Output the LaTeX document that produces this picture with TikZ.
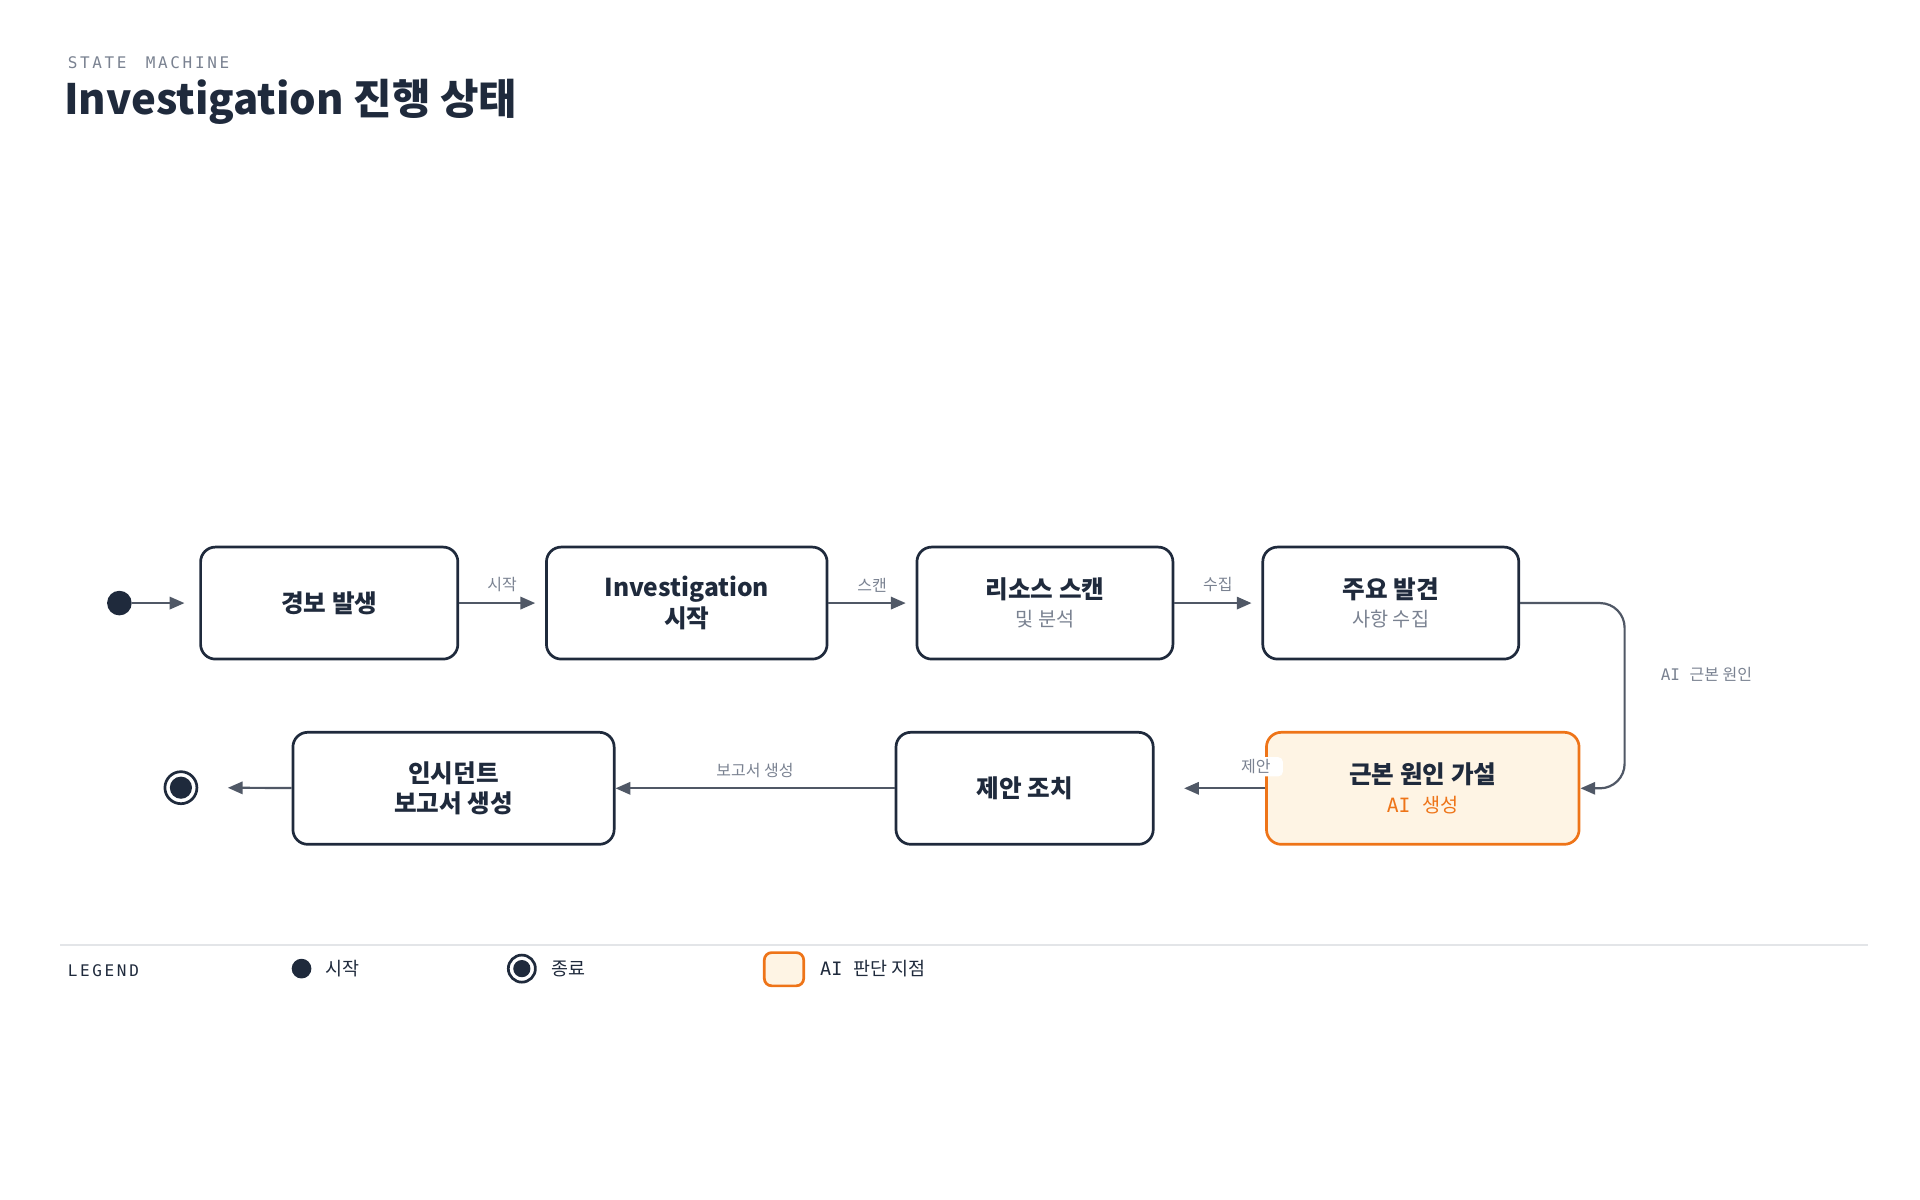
\documentclass[tikz,border=0pt]{standalone}
\usepackage{fontspec}
\setmainfont{Noto Sans CJK KR}
\setmonofont{DejaVu Sans Mono}
\newfontfamily\krfont{Noto Sans CJK KR}
\usetikzlibrary{arrows.meta, positioning}
\definecolor{ink}{HTML}{1F2A3C}
\definecolor{wire}{HTML}{505866}
\definecolor{muted}{HTML}{7A8291}
\definecolor{aiorange}{HTML}{EE7418}
\definecolor{aifill}{HTML}{FEF4E4}
\definecolor{rule}{HTML}{E3E5E8}
\newcommand\subline{\fontsize{8}{10}\selectfont\mdseries\color{muted}}
\tikzset{
  state/.style={draw=ink, line width=1.1pt, rounded corners=6pt, minimum height=45.5pt, align=center, text=ink, font=\fontsize{10}{12.5}\selectfont\bfseries},
  aistate/.style={state, draw=aiorange, fill=aifill},
  flow/.style={draw=wire, line width=0.9pt, -{Triangle[length=6pt,width=5pt]}},
  lbl/.style={text=muted, font=\fontsize{6.5}{8}\selectfont, inner sep=1pt},
}
\begin{document}
\begin{tikzpicture}[x=0.5pt, y=-0.5pt]
\useasboundingbox (0,0) rectangle (1560,975);
% title
\node[anchor=west, text=muted, font=\ttfamily\fontsize{6.5}{8}\selectfont] at (48,51) {S\,T\,A\,T\,E\ \ M\,A\,C\,H\,I\,N\,E};
\node[anchor=west, text=ink, font=\fontsize{17}{20}\selectfont\bfseries] at (45,83) {Investigation 진행 상태};
% states
\node[circle, fill=ink, minimum size=10pt, inner sep=0pt] (start) at (97,490) {};
\node[state, minimum width=104.5pt] (alert) at (267.5,490) {경보 발생};
\node[state, minimum width=114pt] (invest) at (558,490) {Investigation\\시작};
\node[state, minimum width=104pt] (scan) at (849,490) {리소스 스캔\\[-1pt]{\subline 및 분석}};
\node[state, minimum width=104pt] (finding) at (1130,490) {주요 발견\\[-1pt]{\subline 사항 수집}};
\node[aistate, minimum width=127pt] (rootcause) at (1156,640.5) {근본 원인 가설\\[-1pt]{\subline\color{aiorange}\ttfamily AI {\krfont 생성}}};
\node[state, minimum width=104.5pt] (action) at (832.5,640.5) {제안 조치};
\node[state, minimum width=130.5pt] (report) at (368.5,640.5) {인시던트\\보고서 생성};
\node[circle, draw=ink, line width=1.1pt, minimum size=13pt, inner sep=0pt] (stop) at (147,640) {};
\node[circle, fill=ink, minimum size=9pt, inner sep=0pt] at (stop) {};
% transitions
\draw[flow, shorten >=6pt] (start) -- (alert);
\draw[flow, shorten >=4pt] (alert) -- node[lbl, above=3pt] {시작} (invest);
\draw[flow, shorten >=4pt] (invest) -- node[lbl, above=3pt] {스캔} (scan);
\draw[flow, shorten >=4pt] (scan) -- node[lbl, above=3pt] {수집} (finding);
\coordinate (bend) at (1320,490);
\draw[flow, rounded corners=10pt] (finding.east) -- (bend) -- (bend |- rootcause) -- (rootcause.east);
\node[lbl, font=\ttfamily\fontsize{6.5}{8}\selectfont, anchor=west] at (1347,548) {AI {\krfont 근본 원인}};
\draw[flow, shorten >=12pt] (rootcause) -- (action);
\node[lbl, fill=white, rounded corners=2pt, minimum width=22pt, anchor=west, inner xsep=5pt] at (998,623) {제안};
\draw[flow] (action) -- node[lbl, above=3pt] {보고서 생성} (report);
\draw[flow, shorten >=12pt] (report) -- (stop);
% legend
\draw[rule, line width=0.8pt] (49,768) -- (1518,768);
\node[anchor=west, text=ink, font=\ttfamily\fontsize{6.5}{8}\selectfont] at (48,789) {L\,E\,G\,E\,N\,D};
\node[circle, fill=ink, minimum size=8pt, inner sep=0pt] (legstart) at (245,787) {};
\node[lbl, anchor=west, text=ink, font=\fontsize{7.5}{9}\selectfont] at (262,787) {시작};
\node[circle, draw=ink, line width=1.1pt, minimum size=11pt, inner sep=0pt] (legstop) at (424,787) {};
\node[circle, fill=ink, minimum size=7pt, inner sep=0pt] at (legstop) {};
\node[lbl, anchor=west, text=ink, font=\fontsize{7.5}{9}\selectfont] at (446,787) {종료};
\node[draw=aiorange, fill=aifill, line width=1.1pt, rounded corners=3pt, minimum width=16pt, minimum height=13.5pt, inner sep=0pt] (legai) at (637,787.5) {};
\node[lbl, anchor=west, text=ink, font=\ttfamily\fontsize{7.5}{9}\selectfont] at (664,787) {AI {\krfont 판단 지점}};
\end{tikzpicture}
\end{document}
